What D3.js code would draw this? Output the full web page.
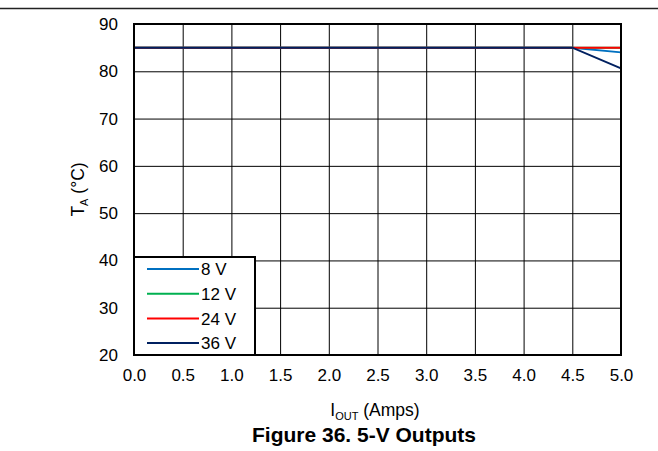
<!DOCTYPE html>
<html>
<head>
<meta charset="utf-8">
<script src="https://cdn.jsdelivr.net/npm/d3@7"></script>
<style>
  body { margin: 0; background: #fff; }
  text { font-family: "Liberation Sans", Arial, sans-serif; fill: #000; }
</style>
</head>
<body>
<div id="chart"></div>
<script>
// data
var iout = [0.0, 0.5, 1.0, 1.5, 2.0, 2.5, 3.0, 3.5, 4.0, 4.5, 5.0];
var ta8V  = [85, 85, 85, 85, 85, 85, 85, 85, 85, 85, 84.0];
var ta12V = [85, 85, 85, 85, 85, 85, 85, 85, 85, 85, 85];
var ta24V = [85, 85, 85, 85, 85, 85, 85, 85, 85, 85, 85];
var ta36V = [85, 85, 85, 85, 85, 85, 85, 85, 85, 85, 80.6];
var seriesNames = ["8 V", "12 V", "24 V", "36 V"];
var seriesColors = ["#0070c0", "#00b050", "#ff0000", "#002060"];
var xTicks = [0, 0.5, 1, 1.5, 2, 2.5, 3, 3.5, 4, 4.5, 5];
var yTicks = [20, 30, 40, 50, 60, 70, 80, 90];

var W = 658, H = 451;
var margin = {top: 24, right: 37, bottom: 96, left: 134};
var width = W - margin.left - margin.right,
    height = H - margin.top - margin.bottom;

var svg = d3.select("#chart").append("svg")
  .attr("width", W).attr("height", H);

// rule at the top of the page
svg.append("line")
  .attr("x1", 0).attr("x2", W).attr("y1", 8.5).attr("y2", 8.5)
  .attr("stroke", "#222").attr("stroke-width", 1.5);

var g = svg.append("g")
  .attr("transform", "translate(" + margin.left + "," + margin.top + ")");

var x = d3.scaleLinear().domain([0, 5]).range([0, width]);
var y = d3.scaleLinear().domain([20, 90]).range([height, 0]);

// grid
g.append("g")
  .attr("transform", "translate(0," + height + ")")
  .call(d3.axisBottom(x).tickValues(xTicks).tickSize(-height).tickFormat(""))
  .call(function(a) { a.select(".domain").remove(); })
  .selectAll("line").attr("stroke", "#000").attr("stroke-width", 1);
g.append("g")
  .call(d3.axisLeft(y).tickValues(yTicks).tickSize(-width).tickFormat(""))
  .call(function(a) { a.select(".domain").remove(); })
  .selectAll("line").attr("stroke", "#000").attr("stroke-width", 1);

// tick labels
var xAxis = g.append("g")
  .attr("transform", "translate(0," + height + ")")
  .call(d3.axisBottom(x).tickValues(xTicks).tickSize(0).tickPadding(14).tickFormat(d3.format(".1f")));
xAxis.select(".domain").remove();
xAxis.selectAll("text").style("font-size", "17px");

var yAxis = g.append("g")
  .call(d3.axisLeft(y).tickValues(yTicks).tickSize(0).tickPadding(16).tickFormat(d3.format("d")));
yAxis.select(".domain").remove();
yAxis.selectAll("text").style("font-size", "17px");

// lines
var allSeries = [ta8V, ta12V, ta24V, ta36V];
var line = d3.line()
  .x(function(d, i) { return x(iout[i]); })
  .y(function(d) { return y(d); });

allSeries.forEach(function(s, k) {
  g.append("path")
    .datum(s)
    .attr("fill", "none")
    .attr("stroke", seriesColors[k])
    .attr("stroke-width", 2)
    .attr("d", line);
});

// legend
var lg = g.append("g");
lg.append("rect")
  .attr("x", 0).attr("y", 233)
  .attr("width", 121).attr("height", height - 233)
  .attr("fill", "#fff").attr("stroke", "#000").attr("stroke-width", 2);
seriesNames.forEach(function(name, k) {
  var yy = 245 + k * 24.7;
  lg.append("line")
    .attr("x1", 13).attr("x2", 65).attr("y1", yy).attr("y2", yy)
    .attr("stroke", seriesColors[k]).attr("stroke-width", 2);
  lg.append("text")
    .attr("x", 67).attr("y", yy).attr("dy", "0.36em")
    .style("font-size", "17px")
    .text(name);
});

// plot frame
g.append("rect")
  .attr("width", width).attr("height", height)
  .attr("fill", "none").attr("stroke", "#000").attr("stroke-width", 2);

// axis titles
var xt = svg.append("text")
  .attr("x", 375).attr("y", 416)
  .attr("text-anchor", "middle").style("font-size", "17.5px");
xt.append("tspan").text("I");
xt.append("tspan").attr("dy", 4).style("font-size", "11px").text("OUT");
xt.append("tspan").attr("dy", -4).text(" (Amps)");

var yt = svg.append("text")
  .attr("transform", "translate(84," + (margin.top + height / 2) + ") rotate(-90)")
  .attr("text-anchor", "middle").style("font-size", "17.5px");
yt.append("tspan").text("T");
yt.append("tspan").attr("dy", 4).style("font-size", "11px").text("A");
yt.append("tspan").attr("dy", -4).text(" (°C)");

svg.append("text")
  .attr("x", 364).attr("y", 442)
  .attr("text-anchor", "middle")
  .style("font-size", "21px").style("font-weight", "bold")
  .text("Figure 36. 5-V Outputs");
</script>
</body>
</html>
